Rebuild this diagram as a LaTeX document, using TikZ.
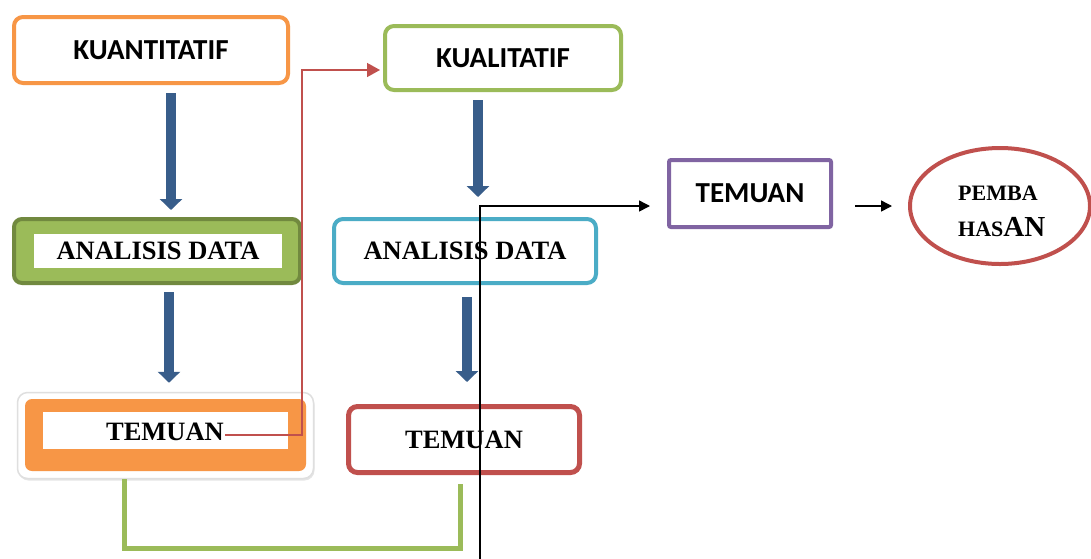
\documentclass[tikz,border=0pt]{standalone}
\usepackage{fontspec}
\setmainfont{Liberation Serif}
\newfontfamily\sansb{Carlito}
\usetikzlibrary{arrows.meta,calc,shadows,shapes.geometric}
\definecolor{cOrange}{HTML}{F79646}
\definecolor{cGreen}{HTML}{9BBB59}
\definecolor{cDGreen}{HTML}{71893F}
\definecolor{cBlue}{HTML}{385D8A}
\definecolor{cCyan}{HTML}{4BACC6}
\definecolor{cRed}{HTML}{C0504D}
\definecolor{cPurple}{HTML}{8064A2}
\tikzset{
  box/.style={draw, line width=4pt, rounded corners=9pt, fill=white, inner sep=0pt},
  stxt/.style={font=\sansb\bfseries\fontsize{29}{32}\selectfont},
  rtxt/.style={font=\bfseries\fontsize{26.5}{30}\selectfont},
  blk/.style={cBlue, line width=10pt, -{Triangle[width=22pt,length=11pt]}},
  thinred/.style={cRed, line width=1.5pt, -{Triangle[width=14pt,length=13pt]}},
  thinblack/.style={black, line width=1.5pt, -{Triangle[width=11pt,length=11pt]}},
  bracket/.style={cGreen, line width=5pt},
}
\begin{document}
\begin{tikzpicture}[x=1pt,y=-1pt]
\useasboundingbox[fill=white] (0,0) rectangle (1091,558);
% left column
\node[box, draw=cOrange, minimum width=274pt, minimum height=66pt, stxt] (kuan) at (151,50) {KUANTITATIF};
\node[box, draw=cDGreen, fill=cGreen, minimum width=286pt, minimum height=64pt, rounded corners=8pt] (anl) at (157,251) {};
\node[fill=white, minimum width=248pt, minimum height=34pt, inner sep=0pt, rtxt] (anlt) at (158,251) {ANALISIS DATA};
\node[fill=white, draw=gray!25, line width=1.5pt, rounded corners=10pt, minimum width=296pt, minimum height=86pt, inner sep=0pt,
  drop shadow={opacity=0.2, shadow xshift=1pt, shadow yshift=-2pt}] (tlo) at (165.5,435.5) {};
\node[fill=cOrange, rounded corners=7pt, minimum width=281pt, minimum height=72pt, inner sep=0pt] (tlm) at (165.5,435) {};
\node[fill=white, minimum width=245pt, minimum height=37pt, inner sep=0pt] (tli) at (165.5,430.5) {};
\node[rtxt, inner sep=0pt] (tlt) at (165,432) {TEMUAN};
% middle column
\node[box, draw=cGreen, minimum width=236pt, minimum height=64pt, stxt] (kual) at (503,58) {KUALITATIF};
\node[box, draw=cCyan, minimum width=262pt, minimum height=64pt, rtxt] (anr) at (465,251) {ANALISIS DATA};
\node[box, draw=cRed, line width=5pt, minimum width=231pt, minimum height=66pt, rtxt] (tm) at (464,439.5) {TEMUAN};
% right
\node[draw=cPurple, line width=4pt, rounded corners=2pt, fill=white, minimum width=162pt, minimum height=67pt, inner sep=0pt, stxt] (tr) at (750,193.5) {TEMUAN};
\node[draw=cRed, line width=4pt, ellipse, minimum width=180pt, minimum height=116pt, inner sep=0pt] (ell) at (1000,206) {};
\node[anchor=base west, inner sep=0pt, font=\bfseries\fontsize{22}{24}\selectfont] (p1) at (958,200) {PEMBA};
\node[anchor=base west, inner sep=0pt, font=\bfseries\fontsize{22}{24}\selectfont] (p2) at (958,236) {HAS{\fontsize{29}{30}\selectfont AN}};
% blue arrows
\draw[blk] ($(kuan.south)+(20,8)$) -- ($(kuan.south |- anl.north)+(20,-7)$);
\draw[blk] ($(anl.south)+(12,7)$) -- ($(anl.south |- tlo.north)+(12,-9)$);
\draw[blk] ($(kual.south)+(-25,8)$) -- ($(kual.south |- anr.north)+(-25,-20)$);
\draw[blk] ($(anr.south)+(2,12)$) -- ($(anr.south |- tm.north)+(2,-22)$);
% red connector
\draw[thinred] ($(tlt.east)+(1,3)$) -- ++(77,0) |- ($(kual.west)+(-3,12)$);
% green bracket
\draw[bracket] ($(tlo.south)+(-41.5,0)$) -- ++(0,69) -| ($(tm.south)+(-4,9)$);
% black connector
\coordinate (bstart) at (480,560);
\draw[thinblack] (bstart) |- ($(tr.west)+(-17,12.5)$);
\draw[thinblack] ($(tr.east)+(22,12.5)$) -- ($(ell.west)+(-16,0)$);
\end{tikzpicture}
\end{document}
